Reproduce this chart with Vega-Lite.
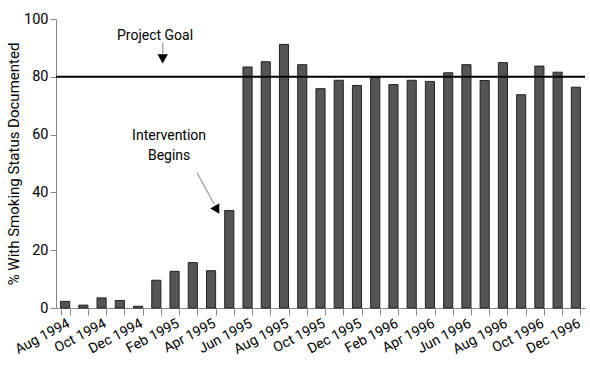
{
  "$schema": "https://vega.github.io/schema/vega-lite/v6.json",
  "autosize": "none",
  "width": 529,
  "height": 289,
  "padding": {"left": 56, "top": 19, "right": 5, "bottom": 65},
  "background": "white",
  "config": {
    "view": {"stroke": null},
    "font": "Roboto",
    "axis": {
      "labelFont": "Roboto",
      "titleFont": "Roboto",
      "labelColor": "#000",
      "titleColor": "#000",
      "domainColor": "#888",
      "tickColor": "#888",
      "grid": false
    }
  },
  "layer": [
    {
      "data": {"values": [
        {"month": "Aug 1994", "pct": 2.3},
        {"month": "Sep 1994", "pct": 1.0},
        {"month": "Oct 1994", "pct": 3.5},
        {"month": "Nov 1994", "pct": 2.6},
        {"month": "Dec 1994", "pct": 0.6},
        {"month": "Jan 1995", "pct": 9.6},
        {"month": "Feb 1995", "pct": 12.7},
        {"month": "Mar 1995", "pct": 15.7},
        {"month": "Apr 1995", "pct": 12.9},
        {"month": "May 1995", "pct": 33.7},
        {"month": "Jun 1995", "pct": 83.4},
        {"month": "Jul 1995", "pct": 85.2},
        {"month": "Aug 1995", "pct": 91.2},
        {"month": "Sep 1995", "pct": 84.2},
        {"month": "Oct 1995", "pct": 75.9},
        {"month": "Nov 1995", "pct": 78.8},
        {"month": "Dec 1995", "pct": 77.0},
        {"month": "Jan 1996", "pct": 79.9},
        {"month": "Feb 1996", "pct": 77.3},
        {"month": "Mar 1996", "pct": 78.8},
        {"month": "Apr 1996", "pct": 78.4},
        {"month": "May 1996", "pct": 81.4},
        {"month": "Jun 1996", "pct": 84.2},
        {"month": "Jul 1996", "pct": 78.7},
        {"month": "Aug 1996", "pct": 84.9},
        {"month": "Sep 1996", "pct": 73.8},
        {"month": "Oct 1996", "pct": 83.7},
        {"month": "Nov 1996", "pct": 81.6},
        {"month": "Dec 1996", "pct": 76.4}
      ]},
      "mark": {"type": "bar", "fill": "#555", "stroke": "#222", "strokeWidth": 1},
      "encoding": {
        "x": {
          "field": "month", "type": "ordinal", "sort": null,
          "scale": {"type": "band", "paddingInner": 0.5, "paddingOuter": 0.25},
          "axis": {
            "orient": "bottom",
            "title": null, "tickBand": "extent", "labelAngle": -28,
            "labelFontSize": 14, "tickSize": 7, "labelPadding": 1,
            "labelExpr": "test(/^(Aug|Oct|Dec|Feb|Apr|Jun)/, datum.label + '') ? datum.label : ''"
          }
        },
        "y": {
          "field": "pct", "type": "quantitative", "stack": null,
          "scale": {"domain": [0, 100], "nice": false},
          "axis": {
            "title": "% With Smoking Status Documented",
            "values": [0, 20, 40, 60, 80, 100],
            "labelFontSize": 14.5, "tickSize": 6, "labelPadding": 2,
            "titleFontSize": 15, "titleFontWeight": "normal", "titlePadding": 2
          }
        }
      }
    },
    {
      "data": {"values": [{"pct": 80}]},
      "mark": {"type": "rule", "color": "#000", "strokeWidth": 2},
      "encoding": {"y": {"field": "pct", "type": "quantitative", "title": "% With Smoking Status Documented"}}
    },
    {
      "data": {"values": [
        {"t": 5.43, "pct": 92.8, "label": "Project Goal"},
        {"t": 6.2, "pct": 58.2, "label": "Intervention\nBegins"}
      ]},
      "mark": {"type": "text", "fontSize": 14, "baseline": "alphabetic", "align": "center", "lineBreak": "\n", "lineHeight": 20, "color": "#000"},
      "encoding": {
        "x": {"field": "t", "type": "quantitative", "scale": {"domain": [0, 29], "nice": false, "zero": false}, "axis": null},
        "y": {"field": "pct", "type": "quantitative", "title": "% With Smoking Status Documented"},
        "text": {"field": "label"}
      }
    },
    {
      "data": {"values": [
        {"t": 5.85, "pct": 91.8, "t2": 5.85, "pct2": 88.0},
        {"t": 7.74, "pct": 46.7, "t2": 8.66, "pct2": 36.1}
      ]},
      "mark": {"type": "rule", "color": "#999", "strokeWidth": 1.2},
      "encoding": {
        "x": {"field": "t", "type": "quantitative", "scale": {"domain": [0, 29], "nice": false, "zero": false}, "axis": null},
        "x2": {"field": "t2"},
        "y": {"field": "pct", "type": "quantitative", "title": "% With Smoking Status Documented"},
        "y2": {"field": "pct2"}
      }
    },
    {
      "data": {"values": [{"t": 5.85, "pct": 86.2}]},
      "mark": {"type": "point", "shape": "triangle-down", "filled": true, "color": "#000", "size": 110, "opacity": 1},
      "encoding": {
        "x": {"field": "t", "type": "quantitative", "scale": {"domain": [0, 29], "nice": false, "zero": false}, "axis": null},
        "y": {"field": "pct", "type": "quantitative", "title": "% With Smoking Status Documented"}
      }
    },
    {
      "data": {"values": [{"t": 8.83, "pct": 34.0}]},
      "mark": {"type": "point", "shape": "triangle-up", "filled": true, "color": "#000", "size": 110, "opacity": 1, "angle": 150},
      "encoding": {
        "x": {"field": "t", "type": "quantitative", "scale": {"domain": [0, 29], "nice": false, "zero": false}, "axis": null},
        "y": {"field": "pct", "type": "quantitative", "title": "% With Smoking Status Documented"}
      }
    }
  ],
  "resolve": {"scale": {"x": "independent"}}
}
